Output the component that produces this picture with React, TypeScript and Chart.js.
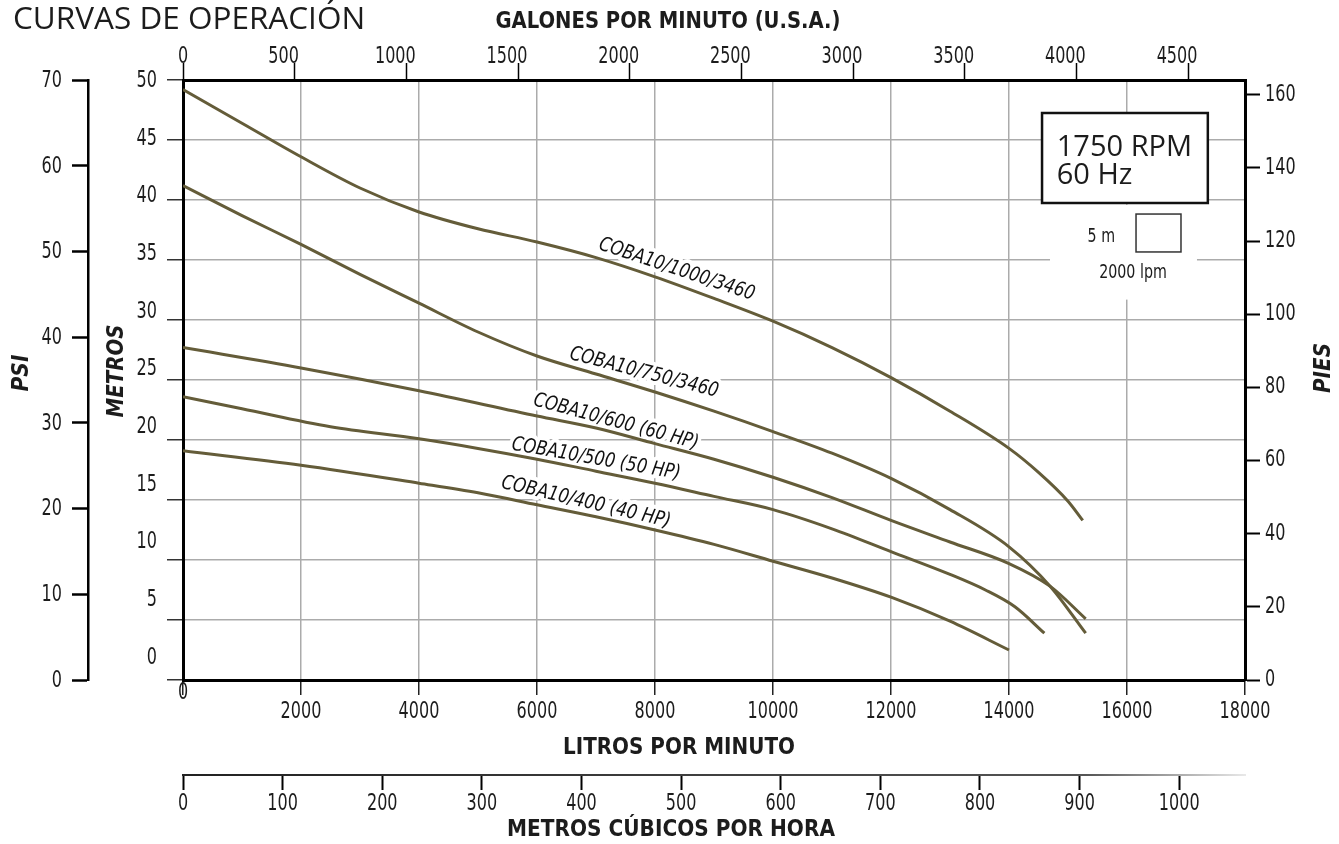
import { useEffect, useRef } from "react";
import { Chart, registerables } from "chart.js";

Chart.register(...registerables);

const W = 1339;
const H = 844;

// ---- tick values ----
const lpmTicks = [0, 2000, 4000, 6000, 8000, 10000, 12000, 14000, 16000, 18000];
const gpmTicks = [0, 500, 1000, 1500, 2000, 2500, 3000, 3500, 4000, 4500];
const m3hTicks = [0, 100, 200, 300, 400, 500, 600, 700, 800, 900, 1000];
const metrosTicks = [0, 5, 10, 15, 20, 25, 30, 35, 40, 45, 50];
const piesTicks = [0, 20, 40, 60, 80, 100, 120, 140, 160];
const psiTicks = [0, 10, 20, 30, 40, 50, 60, 70];

// ---- curves (litros por minuto, metros) ----
const curveNames = [
  "COBA10/1000/3460",
  "COBA10/750/3460",
  "COBA10/600 (60 HP)",
  "COBA10/500 (50 HP)",
  "COBA10/400 (40 HP)",
];

const lpm1000 = [0, 1000, 2000, 3000, 4000, 5000, 6000, 7000, 8000, 9000, 10000, 11000, 12000, 13000, 14000, 14500, 15000, 15250];
const head1000 = [49.2, 46.4, 43.6, 41.0, 39.0, 37.6, 36.5, 35.2, 33.6, 31.8, 29.9, 27.7, 25.2, 22.4, 19.3, 17.3, 14.9, 13.3];

const lpm750 = [0, 1000, 2000, 3000, 4000, 5000, 6000, 7000, 8000, 9000, 10000, 11000, 12000, 13000, 14000, 14700, 15300];
const head750 = [41.2, 38.7, 36.3, 33.8, 31.4, 29.0, 27.0, 25.5, 24.0, 22.4, 20.7, 18.9, 16.8, 14.2, 11.1, 7.8, 3.9];

const lpm600 = [0, 2000, 4000, 6000, 7000, 8000, 9000, 10000, 11000, 12000, 13000, 14000, 14700, 15300];
const head600 = [27.7, 26.0, 24.1, 22.0, 21.0, 19.7, 18.4, 16.9, 15.2, 13.3, 11.5, 9.7, 7.8, 5.1];

const lpm500 = [0, 1000, 2500, 4000, 5000, 6000, 7000, 8000, 9000, 10000, 11000, 12000, 13000, 13600, 14100, 14600];
const head500 = [23.6, 22.6, 21.1, 20.1, 19.3, 18.4, 17.4, 16.4, 15.3, 14.2, 12.6, 10.7, 8.8, 7.5, 6.1, 3.9];

const lpm400 = [0, 2000, 4000, 5000, 6000, 7000, 8000, 9000, 10000, 11000, 12000, 13000, 14000];
const head400 = [19.1, 17.9, 16.4, 15.6, 14.6, 13.6, 12.5, 11.3, 9.9, 8.5, 6.9, 4.9, 2.5];

const curveX = [lpm1000, lpm750, lpm600, lpm500, lpm400];
const curveY = [head1000, head750, head600, head500, head400];

// ---- layout / style (not data) ----
const FONT_N = "'Liberation Sans Narrow', 'DejaVu Sans Condensed', 'Roboto Condensed', sans-serif";
const FONT_O = "'Open Sans', 'Noto Sans', sans-serif";
const CURVE_COLOR = "#645c39";
const GRID = "#ababab";
const TXT = "#1c1c1c";
const LBL_FONT = `22.5px ${FONT_N}`;
const DIGIT_W = 10.2;

// label anchors in data coordinates (lpm, m), angle deg, target width px
const labelPlace = [
  { lpm: 8368, m: 34.2, a: 18.3, w: 163 },
  { lpm: 7814, m: 25.6, a: 14.5, w: 153 },
  { lpm: 7339, m: 21.5, a: 15, w: 170 },
  { lpm: 7000, m: 18.4, a: 10, w: 171 },
  { lpm: 6830, m: 14.8, a: 13.2, w: 173 },
];

function fitText(ctx: CanvasRenderingContext2D, text: string, cx: number, cy: number, width: number, font: string, rot = 0) {
  ctx.save();
  ctx.font = font;
  ctx.textAlign = "center";
  ctx.textBaseline = "middle";
  const w = ctx.measureText(text).width;
  ctx.translate(cx, cy);
  ctx.rotate(rot);
  ctx.scale(width / w, 1);
  ctx.fillText(text, 0, 0);
  ctx.restore();
}

const decor = {
  id: "decor",
  beforeDatasetsDraw(chart: any) {
    const { ctx } = chart;
    const xs = chart.scales.x;
    const ys = chart.scales.y;
    const X = (v: number) => xs.getPixelForValue(v);
    const Y = (v: number) => ys.getPixelForValue(v);
    ctx.save();
    // white patch behind scale legend
    ctx.fillStyle = "#fff";
    ctx.fillRect(X(14695), Y(39.6), X(17186) - X(14695), Y(31.7) - Y(39.6));
    // curve labels
    ctx.font = `italic 20px ${FONT_N}`;
    ctx.textAlign = "center";
    ctx.textBaseline = "middle";
    curveNames.forEach((name, i) => {
      const p = labelPlace[i];
      const w = ctx.measureText(name).width;
      ctx.save();
      ctx.translate(X(p.lpm), Y(p.m));
      ctx.rotate((p.a * Math.PI) / 180);
      ctx.scale(p.w / w, 1);
      ctx.strokeStyle = "#fff";
      ctx.lineWidth = 8;
      ctx.lineJoin = "round";
      ctx.strokeText(name, 0, 0);
      ctx.fillStyle = "#111";
      ctx.fillText(name, 0, 0);
      ctx.restore();
    });
    ctx.restore();
  },
  afterDraw(chart: any) {
    const { ctx } = chart;
    const xs = chart.scales.x;
    const ys = chart.scales.y;
    const psi = chart.scales.psi;
    const pies = chart.scales.pies;
    const gpm = chart.scales.gpm;
    const m3h = chart.scales.m3h;
    const X = (v: number) => xs.getPixelForValue(v);
    const Y = (v: number) => ys.getPixelForValue(v);
    ctx.save();
    ctx.fillStyle = TXT;

    // main title
    ctx.font = `31.5px ${FONT_O}`;
    ctx.textAlign = "left";
    ctx.textBaseline = "alphabetic";
    ctx.fillText("CURVAS DE OPERACIÓN", 13, 29);

    // axis titles
    const bold = `bold 23px ${FONT_N}`;
    const boldIt = `italic bold 23px ${FONT_N}`;
    fitText(ctx, "GALONES POR MINUTO (U.S.A.)", 668, 22, 345, bold);
    fitText(ctx, "LITROS POR MINUTO", 679, 748, 232, bold);
    fitText(ctx, "METROS CÚBICOS POR HORA", 671, 830, 328, bold);
    fitText(ctx, "PSI", 22, 373, 37, boldIt, -Math.PI / 2);
    fitText(ctx, "METROS", 117, 371, 93, boldIt, -Math.PI / 2);
    fitText(ctx, "PIES", 1324, 368, 50, boldIt, -Math.PI / 2);

    // tick labels (condensed)
    ctx.font = LBL_FONT;
    ctx.textBaseline = "middle";
    const sx = DIGIT_W / ctx.measureText("0").width;
    const lab = (t: string, x: number, y: number, align: CanvasTextAlign) => {
      ctx.save();
      ctx.translate(x, y);
      ctx.scale(sx, 1);
      ctx.textAlign = align;
      ctx.fillText(t, 0, 0);
      ctx.restore();
    };
    psiTicks.forEach((v) => lab(String(v), psi.right - 26, psi.getPixelForValue(v) + 1, "right"));
    const p0 = Y(0) - 22;
    const p50 = Y(50) + 1;
    metrosTicks.forEach((v) => lab(String(v), ys.right - 26, p0 + ((p50 - p0) * v) / 50, "right"));
    piesTicks.forEach((v) => lab(String(v), pies.left + 20, pies.getPixelForValue(v), "left"));
    lpmTicks.forEach((v) => {
      if (v === 0) lab("0", X(0), Y(0) + 13, "center");
      else lab(String(v), X(v), Y(0) + 32, "center");
    });
    m3hTicks.forEach((v) => lab(String(v), m3h.getPixelForValue(v), m3h.top + 29, "center"));
    gpmTicks.forEach((v) => lab(String(v), gpm.getPixelForValue(v) - (v === 0 ? 0 : 11), gpm.bottom - 23, "center"));

    // RPM box
    const bx0 = X(14560), bx1 = X(17370), by0 = Y(47.25), by1 = Y(39.75);
    ctx.fillStyle = "#fff";
    ctx.fillRect(bx0, by0, bx1 - bx0, by1 - by0);
    ctx.strokeStyle = "#111";
    ctx.lineWidth = 2.5;
    ctx.strokeRect(bx0, by0, bx1 - bx0, by1 - by0);
    ctx.fillStyle = TXT;
    ctx.font = `29px ${FONT_O}`;
    ctx.textAlign = "left";
    ctx.textBaseline = "alphabetic";
    ctx.fillText("1750 RPM", X(14810), Y(43.67));
    ctx.fillText("60 Hz", X(14810), Y(41.33));

    // scale legend
    ctx.font = `20px ${FONT_N}`;
    ctx.textBaseline = "middle";
    lab("5 m", X(15797), Y(36.9), "right");
    lab("2000 lpm", X(16102), Y(33.9), "center");
    ctx.strokeStyle = "#333";
    ctx.lineWidth = 1.5;
    ctx.strokeRect(X(16153), Y(38.83), X(16915) - X(16153), Y(35.67) - Y(38.83));

    ctx.restore();
  },
};

const setTicks = (arr: number[]) => (s: any) => {
  s.ticks = arr.map((v) => ({ value: v }));
};

export default function App() {
  const ref = useRef<HTMLCanvasElement>(null);

  useEffect(() => {
    const canvas = ref.current as HTMLCanvasElement;
    const c2d = canvas.getContext("2d") as CanvasRenderingContext2D;
    const fade = c2d.createLinearGradient(183, 0, 1245, 0);
    fade.addColorStop(0, "#222");
    fade.addColorStop(0.85, "#555");
    fade.addColorStop(1, "#e8e8e8");

    const datasets = curveNames.map((name, i) => ({
      label: name,
      data: curveX[i].map((x, j) => ({ x, y: curveY[i][j] })),
      borderColor: CURVE_COLOR,
      borderWidth: 3,
      pointRadius: 0,
      fill: false,
      cubicInterpolationMode: "monotone" as const,
      xAxisID: "x",
      yAxisID: "y",
    }));

    const noLabels = { display: false };

    const chart = new Chart(canvas, {
      type: "line",
      data: { datasets },
      plugins: [decor],
      options: {
        animation: false,
        responsive: false,
        devicePixelRatio: 1,
        layout: { padding: 0 },
        plugins: { legend: { display: false }, tooltip: { enabled: false } },
        scales: {
          x: {
            type: "linear",
            position: "bottom",
            weight: 1,
            min: 0,
            max: 18000,
            afterBuildTicks: setTicks(lpmTicks),
            afterFit: (s: any) => { s.height = 95; },
            grid: { color: GRID, lineWidth: 1.5, tickColor: "#222", tickLength: 15, tickWidth: 1.5 },
            border: { display: true, color: "#000", width: 3 },
            ticks: noLabels,
          },
          m3h: {
            type: "linear",
            position: "bottom",
            weight: 2,
            min: 0,
            max: 1066,
            afterBuildTicks: setTicks(m3hTicks),
            afterFit: (s: any) => { s.height = 69; },
            grid: { drawOnChartArea: false, tickColor: "#000", tickLength: 15, tickWidth: 2 },
            border: { display: true, color: fade, width: 2 },
            ticks: noLabels,
          },
          gpm: {
            type: "linear",
            position: "top",
            min: 0,
            max: 18000 / 3.78541,
            afterBuildTicks: setTicks(gpmTicks),
            afterFit: (s: any) => { s.height = 80; },
            grid: { drawOnChartArea: false, tickColor: "#000", tickLength: 17, tickWidth: 1.5 },
            border: { display: true, color: "#000", width: 3 },
            ticks: noLabels,
          },
          y: {
            type: "linear",
            position: "left",
            weight: 1,
            min: 0,
            max: 50,
            afterBuildTicks: setTicks(metrosTicks),
            afterFit: (s: any) => { s.width = 95; },
            grid: { color: GRID, lineWidth: 1.5, tickColor: "#333", tickLength: 16, tickWidth: 1.5 },
            border: { display: true, color: "#000", width: 3 },
            ticks: noLabels,
          },
          psi: {
            type: "linear",
            position: "left",
            weight: 2,
            min: 0,
            max: 70,
            afterBuildTicks: setTicks(psiTicks),
            afterFit: (s: any) => { s.width = 88; },
            grid: { drawOnChartArea: false, tickColor: "#000", tickLength: 16, tickWidth: 2.5 },
            border: { display: true, color: "#000", width: 2.5 },
            ticks: noLabels,
          },
          pies: {
            type: "linear",
            position: "right",
            min: 0,
            max: 50 * 3.2808,
            afterBuildTicks: setTicks(piesTicks),
            afterFit: (s: any) => { s.width = 94; },
            grid: { drawOnChartArea: false, tickColor: "#000", tickLength: 15, tickWidth: 2 },
            border: { display: true, color: "#000", width: 3 },
            ticks: noLabels,
          },
        },
      } as any,
    });
    return () => chart.destroy();
  }, []);

  return (
    <div style={{ position: "absolute", left: 0, top: 0, width: W, height: H, background: "#fff" }}>
      <canvas ref={ref} width={W} height={H} style={{ display: "block", width: W, height: H }} />
    </div>
  );
}
